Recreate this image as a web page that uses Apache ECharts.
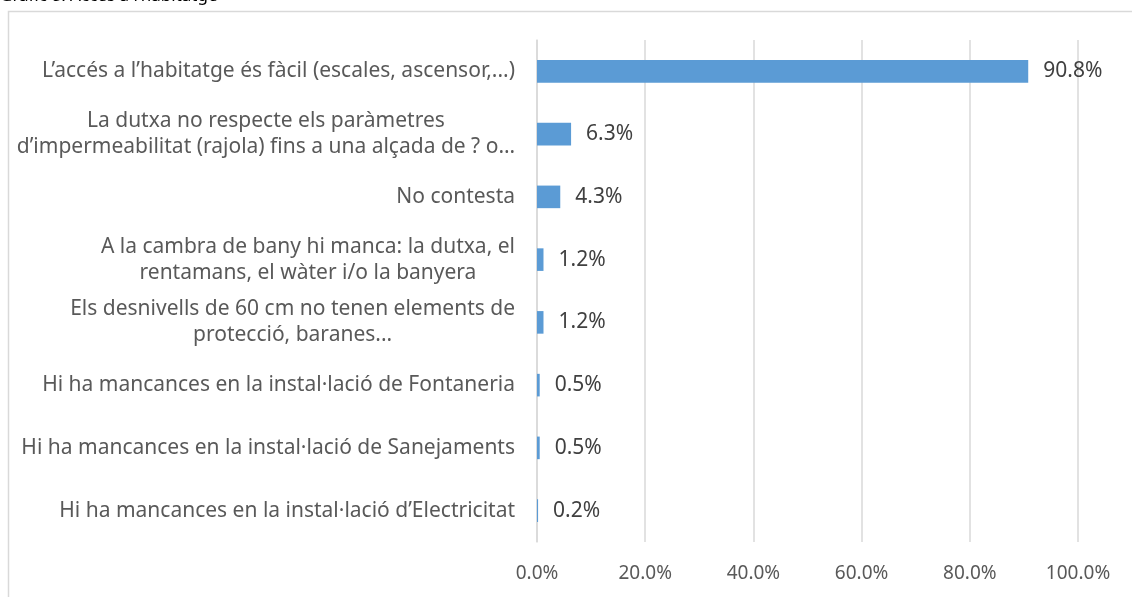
<!DOCTYPE html>
<html>
<head>
<meta charset="utf-8">
<title>Gràfic 8</title>
<script src="https://cdn.jsdelivr.net/npm/echarts@6/dist/echarts.min.js"></script>
<style>
  html, body { margin: 0; padding: 0; background: #fff; }
  #main { width: 1132px; height: 597px; }
</style>
</head>
<body>
<div id="main"></div>
<script>
// categories, top to bottom
var categories = [
    'L\u2019accés a l\u2019habitatge és fàcil (escales, ascensor,...)',
    'La dutxa no respecte els paràmetres\nd\u2019impermeabilitat (rajola) fins a una alçada de ? o…',
    'No contesta',
    'A la cambra de bany hi manca: la dutxa, el\nrentamans, el wàter i/o la banyera',
    'Els desnivells de 60 cm no tenen elements de\nprotecció, baranes...',
    'Hi ha mancances en la instal·lació de Fontaneria',
    'Hi ha mancances en la instal·lació de Sanejaments',
    'Hi ha mancances en la instal·lació d\u2019Electricitat'
];
var percentages = [90.8, 6.3, 4.3, 1.2, 1.2, 0.5, 0.5, 0.2];
var xTicks = [0, 20, 40, 60, 80, 100];

var labelFont = 'Noto Sans';
var chart = echarts.init(document.getElementById('main'));

chart.setOption({
    animation: false,
    textStyle: {fontFamily: labelFont},
    graphic: [
        {
            type: 'rect',
            shape: {x: 8.5, y: 11.5, width: 1200, height: 700},
            style: {fill: 'none', stroke: '#d9d9d9', lineWidth: 1.5},
            silent: true
        },
        {
            // title sits mostly above the cropped top edge
            type: 'text',
            left: 0,
            top: -12,
            style: {
                text: 'Gràfic 8: Accés a l\u2019habitatge',
                font: '17px "Noto Sans"',
                fill: '#000000'
            },
            silent: true
        }
    ],
    grid: {left: 537, right: 54, top: 40, bottom: 55, containLabel: false},
    xAxis: {
        type: 'value',
        min: xTicks[0],
        max: xTicks[xTicks.length - 1],
        interval: 20,
        axisLine: {show: false},
        axisTick: {show: false},
        splitLine: {lineStyle: {color: '#d9d9d9', width: 1.5}},
        axisLabel: {
            color: '#595959',
            fontSize: 19,
            margin: 22,
            formatter: function (v) { return v.toFixed(1) + '%'; }
        }
    },
    yAxis: {
        type: 'category',
        inverse: true,
        data: categories,
        axisLine: {lineStyle: {color: '#d9d9d9', width: 1.5}},
        axisTick: {show: false},
        axisLabel: {
            margin: 22,
            formatter: function (v) {
                return v.split('\n').map(function (s) { return '{c|' + s + '}'; }).join('\n');
            },
            rich: {
                c: {align: 'center', color: '#595959', fontSize: 21, lineHeight: 26, fontFamily: labelFont}
            }
        }
    },
    series: [{
        type: 'bar',
        data: percentages,
        barWidth: '36%',
        itemStyle: {color: '#5b9bd5'},
        label: {
            show: true,
            position: 'right',
            distance: 15,
            color: '#404040',
            fontSize: 21,
            formatter: function (p) { return p.value.toFixed(1) + '%'; }
        }
    }]
});
</script>
</body>
</html>
